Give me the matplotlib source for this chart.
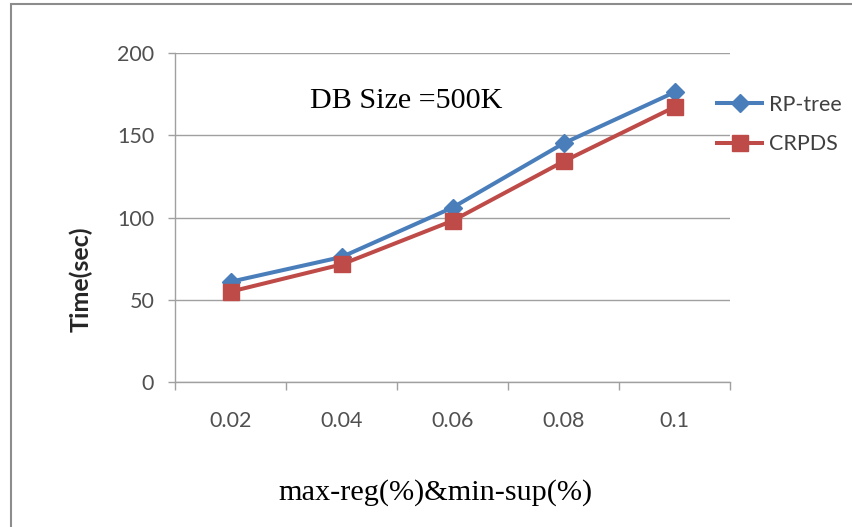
import numpy as np
import matplotlib.pyplot as plt
from matplotlib.patches import Rectangle

# data
categories = ['0.02', '0.04', '0.06', '0.08', '0.1']
rp_tree = [61, 76, 106, 145, 176]
crpds = [55, 71.5, 98, 134, 167]
y_ticks = [0, 50, 100, 150, 200]

blue = '#4A7EBB'
red = '#BE4B48'
grid_gray = '#A0A0A0'
label_gray = '#505050'

plt.rcParams['font.family'] = ['Lato', 'DejaVu Sans']

fig = plt.figure(figsize=(8.52, 5.27), dpi=100)
ax = fig.add_axes([175 / 852, 1 - 382.3 / 527, (730 - 175) / 852, (382.3 - 52.7) / 527])

x = np.arange(len(categories))
ax.plot(x, rp_tree, color=blue, linewidth=2.9, marker='D', markersize=9.5,
        label='RP-tree', zorder=3)
ax.plot(x, crpds, color=red, linewidth=2.9, marker='s', markersize=11.5,
        label='CRPDS', zorder=4)

# axis limits and ticks (excel style: ticks between categories)
ax.set_xlim(-0.5, len(categories) - 0.5)
ax.set_ylim(0, 200)
ax.set_yticks(y_ticks)
ax.set_xticks(np.arange(-0.5, len(categories), 1.0))
ax.set_xticklabels([])
ax.set_xticks(x, minor=True)
ax.set_xticklabels(categories, minor=True)

ax.tick_params(axis='x', which='major', length=5.5, width=1, color=grid_gray, direction='out')
ax.tick_params(axis='x', which='minor', length=0, pad=21, labelsize=15.5, labelcolor=label_gray)
ax.tick_params(axis='y', length=5, width=1, color=grid_gray, pad=10,
               labelsize=15.5, labelcolor=label_gray)

ax.grid(axis='y', color=grid_gray, linewidth=1.0)
ax.set_axisbelow(True)
for side in ['top', 'right']:
    ax.spines[side].set_visible(False)
for side in ['left', 'bottom']:
    ax.spines[side].set_color(grid_gray)
    ax.spines[side].set_linewidth(1.0)

# texts
ax.text(406 / 852, 1 - 100.5 / 527, 'DB Size =500K', transform=fig.transFigure,
        family='Liberation Serif', fontsize=21.7, ha='center', va='center')
fig.text(435 / 852, 1 - 493 / 527, 'max-reg(%)&min-sup(%)',
         family='Liberation Serif', fontsize=21.8, ha='center', va='center')
fig.text(81 / 852, 1 - 279 / 527, 'Time(sec)', rotation=90, fontsize=18,
         fontweight='bold', color='#262626', ha='center', va='center')

ax.legend(loc='upper left', bbox_to_anchor=(717 / 852, 1 - 95 / 527),
          bbox_transform=fig.transFigure, frameon=False, fontsize=15.5,
          handlelength=2.1, handletextpad=0.3, labelspacing=0.9,
          borderpad=0, borderaxespad=0, labelcolor='#404040')

# outer frame of the pasted picture
fig.patches.append(Rectangle((11 / 852, -0.05), 1.0, 1 - 4 / 527 + 0.05,
                             transform=fig.transFigure, fill=False,
                             edgecolor='#8C8C8C', linewidth=1.5))

fig.savefig('out.png', dpi=100)
